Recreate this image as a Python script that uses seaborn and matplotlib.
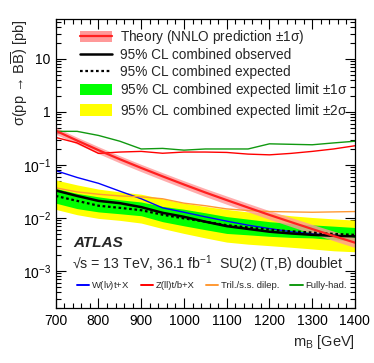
import numpy as np
import seaborn as sns
import matplotlib.pyplot as plt
from matplotlib.lines import Line2D
from matplotlib.patches import Patch
from matplotlib.ticker import FixedLocator, FuncFormatter, LogLocator, NullFormatter

# ===== DATA =====
mass = [700, 750, 800, 850, 900, 950, 1000, 1050, 1100, 1150, 1200, 1250, 1300, 1350, 1400]

# NNLO theory cross-section and +-1 sigma band
theory = [0.442, 0.288, 0.190, 0.128, 0.0877, 0.0609, 0.0427, 0.0302, 0.0217, 0.0157,
          0.0114, 0.00838, 0.00618, 0.00458, 0.00342]
theory_up = [0.510, 0.333, 0.221, 0.149, 0.1025, 0.0715, 0.0503, 0.0358, 0.0259, 0.0188,
             0.0137, 0.0102, 0.00755, 0.00563, 0.00423]
theory_dn = [0.380, 0.247, 0.163, 0.109, 0.0745, 0.0516, 0.0360, 0.0253, 0.0181, 0.0130,
             0.0094, 0.0069, 0.00505, 0.00372, 0.00276]

# combined limits
observed = [0.033, 0.026, 0.021, 0.019, 0.016, 0.0125, 0.0105, 0.0085, 0.0070, 0.0062,
            0.0055, 0.0051, 0.0048, 0.0046, 0.0045]
expected = [0.026, 0.021, 0.017, 0.0155, 0.014, 0.0115, 0.0098, 0.0085, 0.0073, 0.0066,
            0.0060, 0.0056, 0.0053, 0.0050, 0.0048]
exp_p1 = [0.036, 0.029, 0.025, 0.022, 0.020, 0.0165, 0.0146, 0.0125, 0.0106, 0.0095,
          0.0085, 0.0079, 0.0074, 0.0070, 0.0066]
exp_m1 = [0.019, 0.015, 0.013, 0.012, 0.011, 0.0085, 0.0071, 0.0060, 0.0051, 0.0048,
          0.0045, 0.0043, 0.0042, 0.0039, 0.0037]
exp_p2 = [0.052, 0.042, 0.035, 0.031, 0.028, 0.023, 0.019, 0.0165, 0.0145, 0.013,
          0.0123, 0.011, 0.0102, 0.0096, 0.0091]
exp_m2 = [0.0145, 0.0115, 0.0098, 0.009, 0.008, 0.0063, 0.0051, 0.0042, 0.0035, 0.0032,
          0.0030, 0.0028, 0.0026, 0.0024, 0.0023]

# individual analyses (observed)
wlvt = [0.078, 0.058, 0.045, 0.032, 0.023, 0.0155, 0.0128, 0.0105, 0.0087, 0.0073,
        0.0063, 0.0055, 0.0050, 0.0047, 0.0045]
zllt = [0.33, 0.26, 0.165, 0.175, 0.18, 0.166, 0.175, 0.175, 0.172, 0.16,
        0.155, 0.165, 0.18, 0.20, 0.23]
trilep = [0.037, 0.031, 0.028, 0.026, 0.025, 0.023, 0.019, 0.017, 0.0148, 0.0138,
          0.0132, 0.013, 0.0128, 0.013, 0.0132]
fullhad = [0.43, 0.43, 0.36, 0.28, 0.20, 0.205, 0.19, 0.20, 0.20, 0.20,
           0.25, 0.245, 0.24, 0.26, 0.28]

channel_names = ["W(l$\\nu$)t+X", "Z(ll)t/b+X", "Tril./s.s. dilep.", "Fully-had."]
channel_colors = ["#0000ff", "#ff0000", "#ff9933", "#119911"]

# ===== STYLE =====
sns.set_style("ticks")
plt.rcParams['font.family'] = ['Liberation Sans', 'DejaVu Sans']
plt.rcParams['mathtext.fontset'] = 'custom'
plt.rcParams['mathtext.rm'] = 'Liberation Sans'
plt.rcParams['mathtext.it'] = 'Liberation Sans:italic'
plt.rcParams['mathtext.bf'] = 'Liberation Sans:bold'

fig = plt.figure(figsize=(3.74, 3.63), dpi=100)
ax = fig.add_axes([0.149, 0.1515, 0.80, 0.7955])

# bands
ax.fill_between(mass, exp_m2, exp_p2, color="#ffff00", lw=0)
ax.fill_between(mass, exp_m1, exp_p1, color="#00ff00", lw=0)

# individual channels
for vals, col in zip([wlvt, zllt, trilep, fullhad], channel_colors):
    sns.lineplot(x=mass, y=vals, color=col, lw=1.0, ax=ax)

# combined limits
sns.lineplot(x=mass, y=expected, color="black", lw=1.6, linestyle=(0, (1.2, 1.2)), ax=ax)
sns.lineplot(x=mass, y=observed, color="black", lw=1.8, ax=ax)

# theory
ax.fill_between(mass, theory_dn, theory_up, color="#ff9999", alpha=0.8, lw=0)
sns.lineplot(x=mass, y=theory, color="#ff2020", lw=1.6, ax=ax)

ax.set_yscale("log")
ax.set_xlim(700, 1400)
ax.set_ylim(2e-4, 56)

ax.xaxis.set_major_locator(FixedLocator(np.arange(700, 1401, 100)))
ax.xaxis.set_minor_locator(FixedLocator(np.arange(700, 1401, 20)))
ax.yaxis.set_major_locator(LogLocator(base=10, numticks=10))
ax.yaxis.set_minor_locator(LogLocator(base=10, subs=np.arange(2, 10), numticks=20))
ax.yaxis.set_minor_formatter(NullFormatter())


def yfmt(v, pos):
    e = int(round(np.log10(v)))
    if e == 0:
        return "1"
    if e == 1:
        return "10"
    return "$10^{%d}$" % e


ax.yaxis.set_major_formatter(FuncFormatter(yfmt))
ax.tick_params(which="both", direction="in", top=True, right=True, labelsize=10, colors="black")
ax.tick_params(which="major", length=7, width=0.8)
ax.tick_params(which="minor", length=3.5, width=0.8)
ax.tick_params(axis="x", pad=4)
for s in ax.spines.values():
    s.set_linewidth(0.9)
    s.set_color("black")

ax.set_ylabel("σ(pp → $\\mathrm{B}\\overline{\\mathrm{B}}$) [pb]", fontsize=10.5, loc="top")
ax.yaxis.set_label_coords(-0.085, 1.0)
ax.set_xlabel("m$_\\mathrm{B}$ [GeV]", fontsize=10.5, loc="right")
ax.xaxis.set_label_coords(1.0, -0.085)

# top legend
theory_handle = (Patch(facecolor="#ff9999", edgecolor="none"), Line2D([], [], color="#ff2020", lw=1.6))
handles = [
    theory_handle,
    Line2D([], [], color="black", lw=1.8),
    Line2D([], [], color="black", lw=1.6, linestyle=(0, (1.2, 1.2))),
    Patch(facecolor="#00ff00", edgecolor="none"),
    Patch(facecolor="#ffff00", edgecolor="none"),
]
labels = [
    "Theory (NNLO prediction $\\pm$1σ)",
    "95% CL combined observed",
    "95% CL combined expected",
    "95% CL combined expected limit $\\pm$1σ",
    "95% CL combined expected limit $\\pm$2σ",
]
leg = ax.legend(handles, labels, loc="upper left", bbox_to_anchor=(0.08, 0.97), frameon=False,
                fontsize=9.8, handlelength=2.4, handleheight=0.9, handletextpad=0.55,
                labelspacing=0.18, borderaxespad=0, borderpad=0)
ax.add_artist(leg)

# channel legend
ch_handles = [Line2D([], [], color=c, lw=1.4) for c in channel_colors]
ax.legend(ch_handles, channel_names, loc="lower left", bbox_to_anchor=(0.07, 0.055), frameon=False,
          ncol=4, fontsize=6.8, handlelength=1.3, handletextpad=0.25, columnspacing=1.2,
          borderaxespad=0, borderpad=0)

ax.text(0.058, 0.225, "ATLAS", transform=ax.transAxes, fontsize=11, fontweight="bold",
        fontstyle="italic", va="center")
ax.text(0.055, 0.15, "√s = 13 TeV, 36.1 fb$^{-1}$  SU(2) (T,B) doublet", transform=ax.transAxes,
        fontsize=10.2, va="center")

fig.savefig("out.png", dpi=100)
